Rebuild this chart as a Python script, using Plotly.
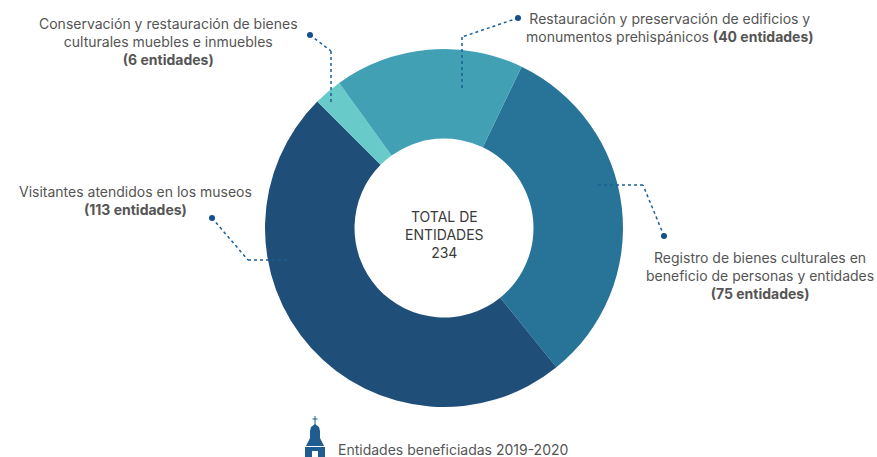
"""Donut of entidades beneficiadas 2019-2020, with dotted leader lines."""
import plotly.graph_objects as go

W, H = 877, 457
FONT = "Inter"
TEXT = "#555555"
DARK = "#3a3a3a"
LEADER = "#1d5f96"
DOT = "#14508c"
CHURCH = "#1f5c8f"

labels = ["Registro de bienes culturales", "Visitantes atendidos en los museos",
          "Conservación y restauración", "Restauración y preservación"]
values = [75, 113, 6, 40]
colors = ["#287499", "#1f4e79", "#69cbc9", "#42a0b5"]
total_label = "TOTAL DE<br>ENTIDADES<br>234"
footer = "Entidades beneficiadas 2019-2020"

# (text, x, y) in page pixels, y is the middle of the block
notes = [
    ("Conservación y restauración de bienes<br>culturales muebles e inmuebles<br><b>(6 entidades)</b>", 168, 42),
    ("Restauración y preservación de edificios y<br>monumentos prehispánicos <b>(40 entidades)</b>", 670, 27),
    ("Visitantes atendidos en los museos<br><b>(113 entidades)</b>", 135, 200),
    ("Registro de bienes culturales en<br>beneficio de personas y entidades<br><b>(75 entidades)</b>", 760, 275),
]
# leader polylines, dot first
leaders = [
    [(310, 35), (331, 51), (331, 104)],
    [(518, 18), (462, 37), (462, 89)],
    [(212, 218), (248, 260), (290, 260)],
    [(664, 236), (643, 185), (598, 185)],
]


def px(x):
    return x / W


def py(y):
    return 1 - y / H


def add_poly(fig, pts, color):
    path = "M " + " L ".join(f"{px(x)} {py(y)}" for x, y in pts) + " Z"
    fig.add_shape(type="path", xref="paper", yref="paper", path=path, fillcolor=color, line_width=0)


fig = go.Figure(go.Pie(
    labels=labels, values=values, hole=0.5, sort=False, direction="clockwise",
    rotation=25.7, textinfo="none", showlegend=False,
    marker=dict(colors=colors, line=dict(color="white", width=0)),
    domain=dict(x=[px(265), px(623)], y=[py(407), py(49)]),
))

for text, x, y in notes:
    fig.add_annotation(text=text, x=px(x), y=py(y), xref="paper", yref="paper", showarrow=False,
                       xanchor="center", yanchor="middle", align="center",
                       font=dict(family=FONT, size=14, color=TEXT))
fig.add_annotation(text=total_label, x=px(444), y=py(234), xref="paper", yref="paper", showarrow=False,
                   xanchor="center", yanchor="middle", align="center",
                   font=dict(family=FONT, size=14, color=DARK))
fig.add_annotation(text=footer, x=px(336), y=py(449), xref="paper", yref="paper", showarrow=False,
                   xanchor="left", yanchor="middle", font=dict(family=FONT, size=14, color=TEXT))

for line in leaders:
    for (x0, y0), (x1, y1) in zip(line, line[1:]):
        fig.add_shape(type="line", xref="paper", yref="paper", x0=px(x0), y0=py(y0), x1=px(x1), y1=py(y1),
                      line=dict(color=LEADER, width=1.5, dash="dot"))
    cx, cy = line[0]
    fig.add_shape(type="circle", xref="paper", yref="paper", fillcolor=DOT, line_width=0,
                  x0=px(cx - 3), x1=px(cx + 3), y0=py(cy + 3), y1=py(cy - 3))

# little church next to the footer
for (x0, y0), (x1, y1) in [((315, 416), (315, 425)), ((312.5, 419), (317.5, 419))]:
    fig.add_shape(type="line", xref="paper", yref="paper", x0=px(x0), y0=py(y0), x1=px(x1), y1=py(y1),
                  line=dict(color=CHURCH, width=1))
add_poly(fig, [(315, 424), (319, 427), (320, 431), (320, 438), (310, 438), (310, 431), (311, 427)], CHURCH)
add_poly(fig, [(310, 438), (320, 438), (324, 446), (306, 446)], CHURCH)
add_poly(fig, [(305, 447), (325, 447), (325, 457), (305, 457)], CHURCH)
add_poly(fig, [(312, 451), (318, 451), (318, 457), (312, 457)], "white")

fig.update_layout(width=W, height=H, margin=dict(t=0, b=0, l=0, r=0), autosize=False,
                  paper_bgcolor="white", plot_bgcolor="white")
fig.write_html("out.html", config=dict(displayModeBar=False),
               post_script="document.body.style.margin='0';document.body.style.overflow='hidden';")
